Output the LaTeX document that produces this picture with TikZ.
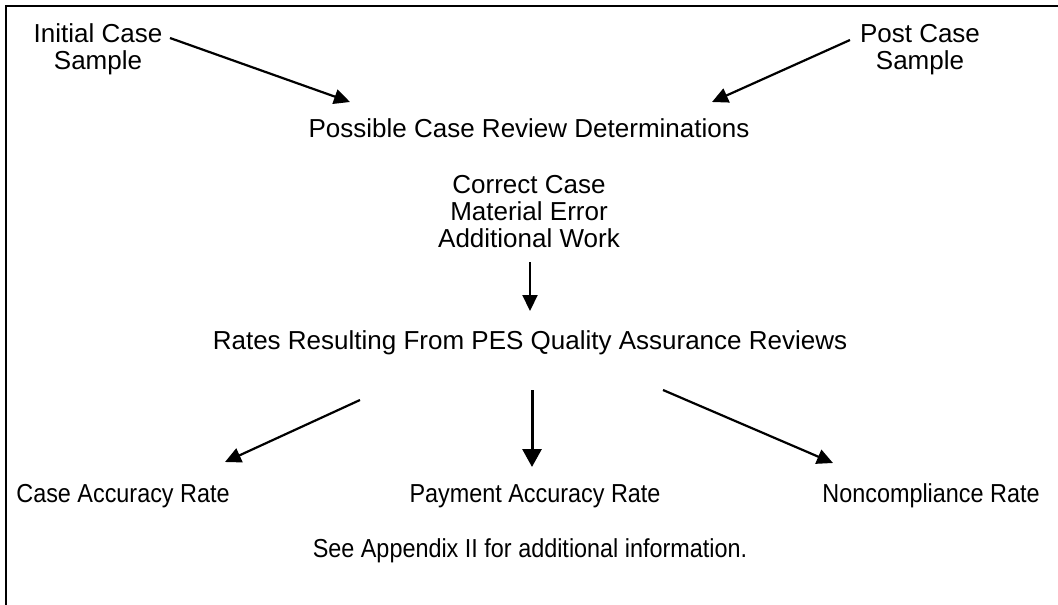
\documentclass[tikz,border=0pt]{standalone}
\usepackage{fontspec}
\setmainfont{Liberation Sans}
\usetikzlibrary{arrows.meta}
\newcommand{\narrowtxt}[1]{\scalebox{0.9}[1]{#1}}
\begin{document}
\begin{tikzpicture}[x=1pt,y=-1pt,
  lbl/.style={anchor=base,inner sep=0pt,align=center,font=\fontsize{26}{27}\selectfont},
  arr/.style={line width=2.2pt,-{Triangle[length=16pt,width=15pt]}},
  bigarr/.style={line width=3pt,-{Triangle[length=18pt,width=19pt]}},
  frame/.style={line width=2pt}]
\useasboundingbox (0,0) rectangle (1058,605);
\draw[frame] (5.5,605) -- (5.5,6) -- (1058,6);
\node[lbl] (init) at (98,69.5) {Initial Case\\Sample};
\node[lbl] (post) at (920,69.5) {Post Case\\Sample};
\node[lbl] (poss) at (529,137.5) {Possible Case Review Determinations};
\node[lbl] (det) at (529,247) {Correct Case\\Material Error\\Additional Work};
\node[lbl] (rates) at (530,349.5) {Rates Resulting From PES Quality Assurance Reviews};
\node[lbl] (car) at (123,502.5) {\narrowtxt{Case Accuracy Rate}};
\node[lbl] (par) at (535,502.5) {\narrowtxt{Payment Accuracy Rate}};
\node[lbl] (ncr) at (931,502.5) {\narrowtxt{Noncompliance Rate}};
\node[lbl] (see) at (530,557.5) {\narrowtxt{See Appendix II for additional information.}};
\coordinate (a1s) at (170,38); \coordinate (a1e) at (350,102);
\coordinate (a2s) at (850,40); \coordinate (a2e) at (712,102);
\coordinate (a3s) at (530,262); \coordinate (a3e) at (530,311);
\coordinate (a4s) at (360,400); \coordinate (a4e) at (225,462);
\coordinate (a5s) at (532,390); \coordinate (a5e) at (532,467);
\coordinate (a6s) at (663,390); \coordinate (a6e) at (833,463);
\draw[arr] (a1s) -- (a1e);
\draw[arr] (a2s) -- (a2e);
\draw[arr] (a3s) -- (a3e);
\draw[arr] (a4s) -- (a4e);
\draw[bigarr] (a5s) -- (a5e);
\draw[arr] (a6s) -- (a6e);
\end{tikzpicture}
\end{document}
